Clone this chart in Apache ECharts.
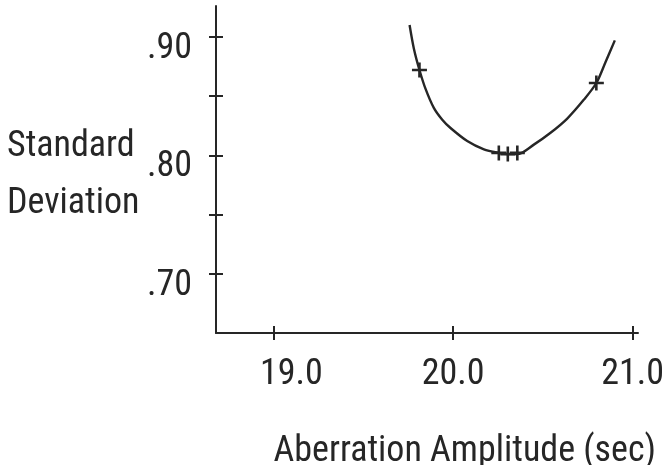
<!DOCTYPE html>
<html>
<head>
<meta charset="utf-8">
<script src="https://cdn.jsdelivr.net/npm/echarts@6/dist/echarts.min.js"></script>
<style>
html,body{margin:0;padding:0;background:#ffffff;}
#c{width:663px;height:465px;}
</style>
</head>
<body>
<div id="c"></div>
<script>
// ---- data ----
const curveX = [19.758, 19.782, 19.813, 19.847, 19.893, 19.940, 19.986, 20.079, 20.172, 20.255, 20.305, 20.358, 20.450, 20.543, 20.636, 20.729, 20.798, 20.850, 20.901];
const curveY = [0.910, 0.890, 0.872, 0.856, 0.840, 0.830, 0.823, 0.812, 0.805, 0.802, 0.801, 0.801, 0.809, 0.819, 0.831, 0.847, 0.861, 0.879, 0.897];
const markerX = [19.813, 20.255, 20.305, 20.358, 20.798];
const markerY = [0.872, 0.802, 0.801, 0.802, 0.861];
const xTickValues = [19.0, 20.0, 21.0];
const xTickLabels = ['19.0', '20.0', '21.0'];
const yTickValues = [0.70, 0.75, 0.80, 0.85, 0.90];
const yLabelValues = [0.70, 0.80, 0.90];
const yTickLabels = ['.70', '.80', '.90'];
const xName = 'Aberration Amplitude (sec)';
const yNameLines = ['Standard', 'Deviation'];

// ---- font choice: the reference uses a narrow plotter font ----
function hasFont(f) {
  const ctx = document.createElement('canvas').getContext('2d');
  const t = 'Aberration Amplitude (sec) 19.0';
  let same = true;
  ['monospace', 'serif'].forEach(function (g) {
    ctx.font = '40px ' + g;
    const a = ctx.measureText(t).width;
    ctx.font = "40px '" + f + "', " + g;
    const b = ctx.measureText(t).width;
    if (a !== b) same = false;
  });
  return !same;
}
const candidates = ['Noto Sans ExtraCondensed', 'Noto Sans Condensed', 'Roboto Condensed', 'Open Sans Condensed',
  'Liberation Sans Narrow', 'DejaVu Sans Condensed', 'Roboto', 'DejaVu Sans'];
let FONT = 'sans-serif';
for (let i = 0; i < candidates.length; i++) {
  if (hasFont(candidates[i])) { FONT = candidates[i]; break; }
}
function textWidth(text, size) {
  const ctx = document.createElement('canvas').getContext('2d');
  ctx.font = size + "px '" + FONT + "'";
  return ctx.measureText(text).width;
}
let FS = Math.round(100 * 382 / textWidth(xName, 100) * 10) / 10;
if (FS > 38) FS = 38;
const INK = '#262626';
// centre the x-axis name so that it ends at the same place as in the reference
const gridLeft = 216, gridRight = 25, W = 663;
const axisMid = (gridLeft + (W - gridRight)) / 2;
const nameW = textWidth(xName, FS);
const nameShift = Math.max(0, 2 * ((656 - nameW / 2) - axisMid));

const tickStyle = { color: INK, width: 2 };
const textBase = { fontFamily: FONT, fontSize: FS, color: INK };

function xLabel(v) {
  let idx = 0;
  for (let i = 0; i < xTickValues.length; i++) if (Math.abs(xTickValues[i] - v) < 1e-6) idx = i;
  return (idx === 0 ? '{s|' : '{n|') + xTickLabels[idx] + '}';
}
function yLabel(v) {
  let idx = 0;
  for (let i = 0; i < yLabelValues.length; i++) if (Math.abs(yLabelValues[i] - v) < 1e-6) idx = i;
  return '{d|' + yTickLabels[idx] + '}';
}
const yName = yNameLines.map(function (l) { return '{t|' + l + '}'; }).join('\n');

const curve = curveX.map(function (x, i) { return [x, curveY[i]]; });
const markers = markerX.map(function (x, i) { return [x, markerY[i]]; });

const chart = echarts.init(document.getElementById('c'), null, { renderer: 'canvas' });
chart.setOption({
  animation: false,
  backgroundColor: '#ffffff',
  grid: { left: gridLeft, right: gridRight, top: 6, bottom: 132, containLabel: false, outerBoundsMode: 'none' },
  xAxis: [
    {
      type: 'value', min: 18.68, max: 21.03, position: 'bottom',
      axisLine: { show: true, onZero: false, lineStyle: tickStyle },
      axisTick: { show: true, customValues: xTickValues, length: 7, lineStyle: tickStyle },
      axisLabel: {
        show: true, customValues: xTickValues, formatter: xLabel, margin: 24,
        fontFamily: FONT, fontSize: FS, color: INK,
        rich: {
          n: { fontFamily: FONT, fontSize: FS, color: INK },
          s: { fontFamily: FONT, fontSize: FS, color: INK, padding: [0, 0, 0, 36] }
        }
      },
      splitLine: { show: false },
      name: xName, nameLocation: 'middle', nameGap: 101, nameMoveOverlap: false,
      nameTextStyle: Object.assign({ padding: [0, 0, 0, nameShift] }, textBase)
    },
    {
      type: 'value', min: 18.68, max: 21.03, position: 'bottom',
      axisLine: { show: false, onZero: false },
      axisTick: { show: true, inside: true, customValues: xTickValues, length: 7, lineStyle: tickStyle },
      axisLabel: { show: false },
      splitLine: { show: false }
    }
  ],
  yAxis: [
    {
      type: 'value', min: 0.65, max: 0.926, position: 'left',
      axisLine: { show: true, onZero: false, lineStyle: tickStyle },
      axisTick: { show: true, customValues: yTickValues, length: 7, lineStyle: tickStyle },
      axisLabel: {
        show: true, customValues: yLabelValues, formatter: yLabel, margin: 24,
        fontFamily: FONT, fontSize: FS, color: INK,
        rich: {
          d: { fontFamily: FONT, fontSize: FS, color: INK, padding: [24, 0, 0, 0] }
        }
      },
      splitLine: { show: false },
      name: yName, nameLocation: 'middle', nameRotate: 0, nameGap: 209, nameMoveOverlap: false,
      nameTextStyle: Object.assign({
        align: 'left', verticalAlign: 'middle', lineHeight: 57,
        rich: { t: { fontFamily: FONT, fontSize: FS, color: INK, lineHeight: 57, padding: [12, 0, 0, 0] } }
      }, textBase)
    },
    {
      type: 'value', min: 0.65, max: 0.926, position: 'left',
      axisLine: { show: false, onZero: false },
      axisTick: { show: true, inside: true, customValues: yTickValues, length: 7, lineStyle: tickStyle },
      axisLabel: { show: false },
      splitLine: { show: false }
    }
  ],
  series: [
    {
      name: 'fit', type: 'line', xAxisIndex: 0, yAxisIndex: 0,
      data: curve, smooth: 0.3, showSymbol: false, symbol: 'none',
      lineStyle: { color: INK, width: 2.4 }, silent: true, z: 2
    },
    {
      name: 'measured', type: 'scatter', xAxisIndex: 0, yAxisIndex: 0,
      data: markers,
      symbol: 'path://M-1.3,-7.5H1.3V-1.3H7.5V1.3H1.3V7.5H-1.3V1.3H-7.5V-1.3H-1.3Z', symbolSize: 15,
      itemStyle: { color: INK, opacity: 1 }, silent: true, z: 3
    }
  ]
});
</script>
</body>
</html>
